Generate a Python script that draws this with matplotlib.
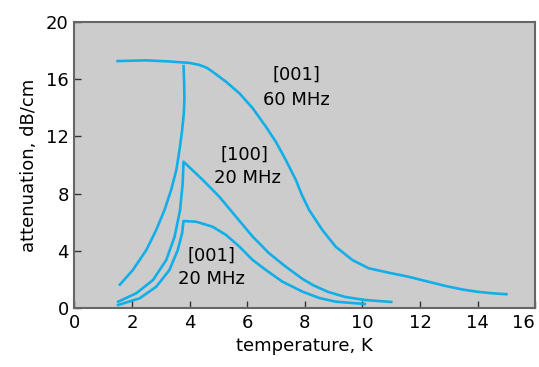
import matplotlib
matplotlib.use("Agg")
import matplotlib.pyplot as plt

# [001] 60 MHz, normal state branch
x_60 = [1.5, 2.5, 3.31, 4.0, 4.34, 4.6, 4.8, 5.27, 5.73, 6.19, 6.65, 7.0,
        7.34, 7.69, 7.9, 8.15, 8.61, 9.07, 9.65, 10.22, 10.92, 11.6,
        12.3, 12.9, 13.5, 14.0, 14.5, 15.0]
y_60 = [17.25, 17.3, 17.22, 17.12, 16.98, 16.78, 16.5, 15.8, 15.0, 13.96,
        12.67, 11.6, 10.35, 8.95, 7.9, 6.86, 5.46, 4.3, 3.37, 2.79, 2.48, 2.2,
        1.85, 1.55, 1.3, 1.15, 1.05, 0.98]

# [001] 60 MHz, superconducting branch
x_60s = [1.58, 2.03, 2.5, 2.84, 3.13, 3.36, 3.54, 3.65, 3.74, 3.8, 3.82,
         3.81, 3.79]
y_60s = [1.65, 2.67, 4.07, 5.46, 6.86, 8.26, 9.65, 11.05, 12.4, 13.6, 14.6,
         15.8, 16.9]

# [100] 20 MHz
x_100 = [1.52, 2.15, 2.73, 3.19, 3.48, 3.67, 3.76, 3.79, 4.46, 5.03, 5.61,
         6.19, 6.76, 7.34, 7.92, 8.3, 8.8, 9.4, 10.08, 11.0]
y_100 = [0.46, 1.05, 1.97, 3.37, 5.0, 6.86, 8.72, 10.23, 8.95, 7.79, 6.39,
         5.0, 3.84, 2.9, 2.05, 1.6, 1.15, 0.79, 0.58, 0.44]

# [001] 20 MHz
x_20 = [1.52, 2.27, 2.84, 3.3, 3.59, 3.74, 3.79, 4.23, 4.8, 5.27, 5.73,
        6.19, 6.65, 7.22, 7.92, 8.5, 9.07, 10.08]
y_20 = [0.23, 0.7, 1.5, 2.67, 4.07, 5.23, 6.09, 6.04, 5.69, 5.11, 4.3,
        3.37, 2.67, 1.86, 1.16, 0.72, 0.46, 0.3]

xticks = [0, 2, 4, 6, 8, 10, 12, 14, 16]
yticks = [0, 4, 8, 12, 16, 20]

blue = '#12aee8'

fig = plt.figure(figsize=(5.39, 3.67), dpi=100)
ax = fig.add_axes([0.138, 0.16, 0.855, 0.781])
ax.set_facecolor('#cccccc')

for xs, ys in [(x_60, y_60), (x_60s, y_60s), (x_100, y_100), (x_20, y_20)]:
    ax.plot(xs, ys, color=blue, lw=1.9, solid_joinstyle='round')

ax.text(7.7, 16.3, '[001]', ha='center', va='center', fontsize=13)
ax.text(7.7, 14.5, '60 MHz', ha='center', va='center', fontsize=13)
ax.text(5.9, 10.7, '[100]', ha='center', va='center', fontsize=13)
ax.text(6.0, 9.1, '20 MHz', ha='center', va='center', fontsize=13)
ax.text(4.76, 3.7, '[001]', ha='center', va='center', fontsize=13)
ax.text(4.76, 2.05, '20 MHz', ha='center', va='center', fontsize=13)

ax.set_xlim(0, 16)
ax.set_ylim(0, 20)
ax.set_xticks(xticks)
ax.set_yticks(yticks)
ax.tick_params(direction='in', length=5, width=1, color='#333333',
               labelsize=13, pad=4)
# last x label sits inside the figure edge
ax.get_xticklabels()[-1].set_horizontalalignment('right')
for s in ax.spines.values():
    s.set_color('#666666')
    s.set_linewidth(1.5)

ax.set_xlabel('temperature, K', fontsize=13, labelpad=4)
ax.set_ylabel('attenuation, dB/cm', fontsize=13, labelpad=6)

fig.savefig('out.png', dpi=100)
